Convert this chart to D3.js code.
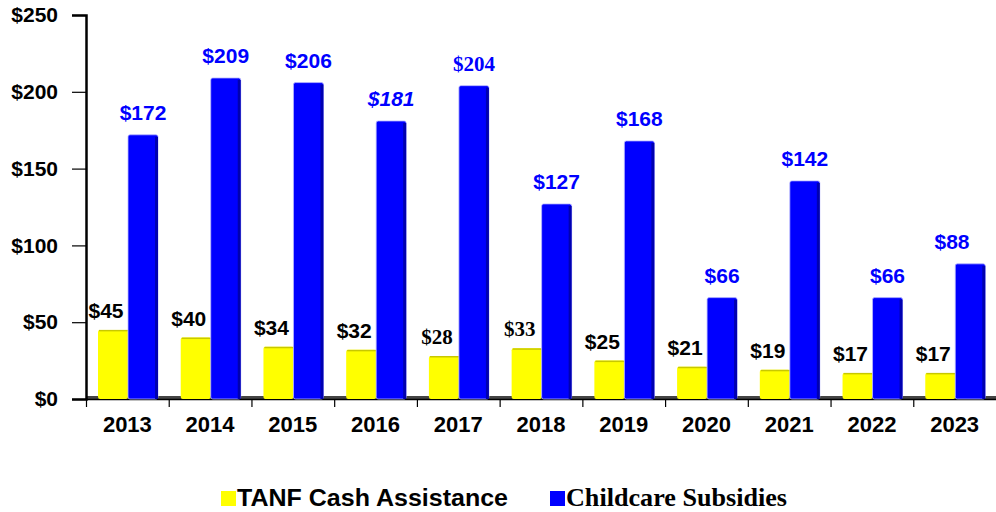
<!DOCTYPE html>
<html>
<head>
<meta charset="utf-8">
<script src="https://cdn.jsdelivr.net/npm/d3@7"></script>
<style>
  body { margin: 0; background: #fff; }
  svg { display: block; }
</style>
</head>
<body>
<div id="chart"></div>
<script>
var width = 996;
var height = 512;

var years = ["2013", "2014", "2015", "2016", "2017", "2018", "2019", "2020", "2021", "2022", "2023"];
var tanf = [45, 40, 34, 32, 28, 33, 25, 21, 19, 17, 17];
var childcare = [172, 209, 206, 181, 204, 127, 168, 66, 142, 66, 88];
var yTicks = [0, 50, 100, 150, 200, 250];
var seriesNames = ["TANF Cash Assistance", "Childcare Subsidies"];

// some labels in the original came out in a different face
var tanfSerif = ["2017", "2018"];
var childSerif = ["2017"];
var childItalic = ["2016"];

// note: "top" is taken by window.top, so plot edges get their own names
var plotLeft = 86, plotRight = 996, plotTop = 15, plotBottom = 399;

var svg = d3.select("#chart")
    .append("svg")
    .attr("width", width)
    .attr("height", height);

var x = d3.scaleBand().domain(years).range([plotLeft, plotRight]);
var x1 = d3.scaleBand().domain(["tanf", "child"]).range([12, 72]);
var y = d3.scaleLinear().domain([0, 250]).range([plotBottom, plotTop]);

var rows = years.map(function(yr, i) {
    return {year: yr, tanf: tanf[i], child: childcare[i]};
});

// floor
svg.append("rect")
    .attr("x", plotLeft).attr("y", plotBottom - 3)
    .attr("width", plotRight - plotLeft).attr("height", 3)
    .attr("fill", "#444");
svg.append("line")
    .attr("x1", plotLeft).attr("x2", plotRight)
    .attr("y1", plotBottom + 0.5).attr("y2", plotBottom + 0.5)
    .attr("stroke", "#000").attr("stroke-width", 1.5);

// y axis
var yAxis = svg.append("g")
    .attr("transform", "translate(" + plotLeft + ",0)")
    .call(d3.axisLeft(y).tickValues(yTicks).tickSize(14).tickPadding(14)
        .tickFormat(function(d) { return "$" + d; }));
yAxis.select(".domain").attr("stroke", "#000").attr("stroke-width", 2.5);
yAxis.selectAll(".tick line").attr("stroke", "#000").attr("stroke-width", 1.2);
yAxis.selectAll(".tick text")
    .attr("font-family", "Liberation Sans, Arial, sans-serif")
    .attr("font-weight", "bold")
    .attr("font-size", 21)
    .attr("fill", "#000");

// x axis boundary ticks
svg.selectAll(".xtick")
    .data(years)
    .enter()
    .append("line")
    .attr("class", "xtick")
    .attr("x1", function(d) { return x(d) + 0.5; })
    .attr("x2", function(d) { return x(d) + 0.5; })
    .attr("y1", plotBottom)
    .attr("y2", plotBottom + 8)
    .attr("stroke", "#000")
    .attr("stroke-width", 1.2);

var xAxis = svg.append("g")
    .attr("transform", "translate(0," + plotBottom + ")")
    .call(d3.axisBottom(x).tickSize(0).tickPadding(17));
xAxis.select(".domain").remove();
xAxis.selectAll(".tick text")
    .attr("font-family", "Liberation Sans, Arial, sans-serif")
    .attr("font-weight", "bold")
    .attr("font-size", 22)
    .attr("fill", "#000");

// yellow bars
var tBars = svg.selectAll(".tanf")
    .data(rows)
    .enter()
    .append("g")
    .attr("class", "tanf");
tBars.append("rect")
    .attr("x", function(d) { return x(d.year) + x1("tanf"); })
    .attr("y", function(d) { return y(d.tanf); })
    .attr("width", x1.bandwidth())
    .attr("height", function(d) { return plotBottom - y(d.tanf); })
    .attr("rx", 2)
    .attr("fill", "#ffff00");
tBars.append("rect")
    .attr("x", function(d) { return x(d.year) + x1("tanf") + 1; })
    .attr("y", function(d) { return y(d.tanf); })
    .attr("width", x1.bandwidth() - 1)
    .attr("height", 1.5)
    .attr("fill", "#c8c800");

// blue bars
var cBars = svg.selectAll(".child")
    .data(rows)
    .enter()
    .append("g")
    .attr("class", "child");
cBars.append("rect")
    .attr("x", function(d) { return x(d.year) + x1("child"); })
    .attr("y", function(d) { return y(d.child); })
    .attr("width", x1.bandwidth())
    .attr("height", function(d) { return plotBottom - y(d.child); })
    .attr("rx", 2)
    .attr("fill", "#0000ff")
    .attr("stroke", "#b8b8ff")
    .attr("stroke-width", 0.8);
cBars.append("rect")
    .attr("x", function(d) { return x(d.year) + x1("child") + x1.bandwidth() - 3; })
    .attr("y", function(d) { return y(d.child) + 2; })
    .attr("width", 3)
    .attr("height", function(d) { return plotBottom - y(d.child) - 2; })
    .attr("fill", "#0000b0");

// labels
svg.selectAll(".tlab")
    .data(rows)
    .enter()
    .append("text")
    .attr("class", "tlab")
    .attr("x", function(d) { return x(d.year) + x1("tanf") + x1.bandwidth() / 2 - 7; })
    .attr("y", function(d) { return y(d.tanf) - 12; })
    .attr("text-anchor", "middle")
    .attr("font-family", function(d) {
        return tanfSerif.indexOf(d.year) >= 0 ? "Liberation Serif, Times New Roman, serif" : "Liberation Sans, Arial, sans-serif";
    })
    .attr("font-weight", "bold")
    .attr("font-size", 21)
    .attr("fill", "#000")
    .text(function(d) { return "$" + d.tanf; });

svg.selectAll(".clab")
    .data(rows)
    .enter()
    .append("text")
    .attr("class", "clab")
    .attr("x", function(d) { return Math.min(x(d.year) + x1("child") + x1.bandwidth() / 2, width - 44); })
    .attr("y", function(d) { return y(d.child) - 15; })
    .attr("text-anchor", "middle")
    .attr("font-family", function(d) {
        return childSerif.indexOf(d.year) >= 0 ? "Liberation Serif, Times New Roman, serif" : "Liberation Sans, Arial, sans-serif";
    })
    .attr("font-style", function(d) { return childItalic.indexOf(d.year) >= 0 ? "italic" : "normal"; })
    .attr("font-weight", "bold")
    .attr("font-size", 21)
    .attr("fill", "#0000ff")
    .text(function(d) { return "$" + d.child; });

// legend
var legend = svg.append("g");
legend.append("rect")
    .attr("x", 221).attr("y", 491).attr("width", 15).attr("height", 15)
    .attr("fill", "#ffff00");
legend.append("text")
    .attr("x", 237).attr("y", 506)
    .attr("font-family", "Liberation Sans, Arial, sans-serif")
    .attr("font-weight", "bold")
    .attr("font-size", 23)
    .attr("textLength", 271)
    .attr("lengthAdjust", "spacingAndGlyphs")
    .attr("fill", "#000")
    .text(seriesNames[0]);
legend.append("rect")
    .attr("x", 550).attr("y", 491).attr("width", 15).attr("height", 15)
    .attr("fill", "#0000ff");
legend.append("text")
    .attr("x", 566).attr("y", 506)
    .attr("font-family", "Liberation Serif, Times New Roman, serif")
    .attr("font-weight", "bold")
    .attr("font-size", 25)
    .attr("textLength", 221)
    .attr("lengthAdjust", "spacingAndGlyphs")
    .attr("fill", "#000")
    .text(seriesNames[1]);
</script>
</body>
</html>
